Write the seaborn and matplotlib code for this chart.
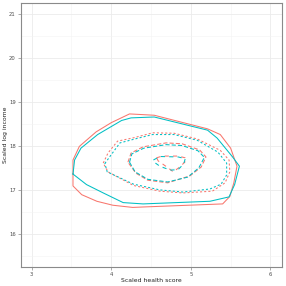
import numpy as np
import pandas as pd
import matplotlib
matplotlib.use("Agg")
import matplotlib.pyplot as plt
import seaborn as sns

# contour paths: (health score, log income), one list per group / level
groups = ["A", "B"]
levels = [1, 2, 3, 4]

a_level1 = [(3.52, 17.36), (3.52, 17.68), (3.60, 17.99), (3.81, 18.32), (4.00, 18.53), (4.23, 18.73),
            (4.54, 18.70), (5.21, 18.39), (5.37, 18.26), (5.50, 17.95), (5.58, 17.54), (5.54, 17.16),
            (5.49, 16.85), (5.40, 16.68), (4.40, 16.61), (4.27, 16.60), (4.02, 16.65), (3.82, 16.74),
            (3.63, 16.89), (3.52, 17.09)]
b_level1 = [(3.52, 17.36), (3.54, 17.68), (3.62, 17.95), (3.83, 18.26), (4.13, 18.58), (4.25, 18.64),
            (4.54, 18.66), (5.21, 18.36), (5.33, 18.18), (5.52, 17.76), (5.61, 17.54), (5.55, 17.12),
            (5.48, 16.84), (5.24, 16.74), (4.40, 16.68), (4.15, 16.71), (3.90, 16.93), (3.69, 17.12)]

a_level2 = [(3.90, 17.61), (3.96, 17.84), (4.08, 18.11), (4.29, 18.19), (4.52, 18.30), (4.79, 18.29),
            (5.08, 18.16), (5.37, 17.90), (5.48, 17.68), (5.49, 17.41), (5.43, 17.16), (5.27, 16.97),
            (4.90, 16.93), (4.61, 16.97), (4.28, 17.10), (3.96, 17.41)]
b_level2 = [(3.92, 17.60), (4.00, 17.80), (4.11, 18.07), (4.30, 18.16), (4.52, 18.26), (4.79, 18.26),
            (5.08, 18.13), (5.34, 17.86), (5.45, 17.61), (5.45, 17.34), (5.38, 17.13), (5.24, 17.02),
            (4.90, 16.95), (4.61, 17.00), (4.28, 17.13), (3.95, 17.41)]

a_level3 = [(4.21, 17.63), (4.25, 17.84), (4.40, 17.98), (4.69, 18.07), (4.89, 18.05), (5.11, 17.91),
            (5.19, 17.75), (5.13, 17.52), (4.99, 17.32), (4.71, 17.16), (4.46, 17.22), (4.31, 17.38)]
b_level3 = [(4.23, 17.63), (4.26, 17.82), (4.41, 17.95), (4.69, 18.03), (4.89, 18.01), (5.09, 17.89),
            (5.17, 17.74), (5.10, 17.50), (4.96, 17.29), (4.71, 17.18), (4.46, 17.24), (4.30, 17.41)]

a_level4 = [(4.57, 17.73), (4.64, 17.77), (4.84, 17.77), (4.93, 17.73), (4.94, 17.66), (4.86, 17.52),
            (4.78, 17.41), (4.70, 17.52), (4.59, 17.66)]
b_level4 = [(4.53, 17.68), (4.61, 17.76), (4.84, 17.75), (4.93, 17.71), (4.91, 17.59), (4.84, 17.46),
            (4.74, 17.45), (4.61, 17.54), (4.54, 17.63)]

paths = {
    ("A", 1): a_level1, ("B", 1): b_level1,
    ("A", 2): a_level2, ("B", 2): b_level2,
    ("A", 3): a_level3, ("B", 3): b_level3,
    ("A", 4): a_level4, ("B", 4): b_level4,
}

x_ticks = [3, 4, 5, 6]
y_ticks = [16, 17, 18, 19, 20, 21]

rows = []
for (g, lv), pts in paths.items():
    closed = pts + [pts[0]]  # close the ring
    for i, (x, y) in enumerate(closed):
        rows.append({"x": x, "y": y, "group": g, "level": lv, "path": f"{g}{lv}", "i": i})
df = pd.DataFrame(rows)

sns.set_style("white")
fig = plt.figure(figsize=(2.86, 2.86), dpi=100)
ax = fig.add_axes([0.072, 0.066, 0.914, 0.924])

ax.set_xlim(2.862, 6.145)
ax.set_ylim(15.24, 21.26)

# grid like theme_bw
ax.set_xticks(x_ticks)
ax.set_yticks(y_ticks)
ax.set_xticks([3.5, 4.5, 5.5], minor=True)
ax.set_yticks([15.5, 16.5, 17.5, 18.5, 19.5, 20.5], minor=True)
ax.grid(True, which="major", color="#ebebeb", lw=0.6)
ax.grid(True, which="minor", color="#f3f3f3", lw=0.4)
ax.set_axisbelow(True)

sns.lineplot(data=df, x="x", y="y", hue="group", style="level", units="path",
             estimator=None, sort=False, legend=False, ax=ax, linewidth=0.75,
             palette={"A": "#F8766D", "B": "#00BFC4"},
             dashes={1: "", 2: (2, 2), 3: (4, 2), 4: (4, 4)})

for side in ["left", "bottom", "top", "right"]:
    ax.spines[side].set_visible(True)
    ax.spines[side].set_color("#8a8a8a")
    ax.spines[side].set_linewidth(0.8)

ax.tick_params(axis="both", which="major", length=2, width=0.5, color="#8a8a8a",
               labelsize=3.8, labelcolor="#4d4d4d", pad=1.5, direction="out",
               bottom=True, left=True)
ax.tick_params(axis="both", which="minor", length=0)

ax.set_xlabel("Scaled health score", fontsize=4.4, color="#222222", va="center")
ax.set_ylabel("Scaled log income", fontsize=4.4, color="#222222", va="center")
ax.xaxis.set_label_coords(0.5, -0.049)
ax.yaxis.set_label_coords(-0.056, 0.5)

fig.savefig("out.png", dpi=100)
